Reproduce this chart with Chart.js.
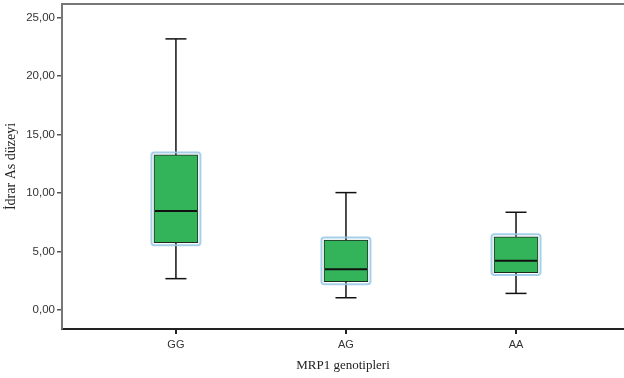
<!DOCTYPE html>
<html><head><meta charset="utf-8">
<script src="https://cdn.jsdelivr.net/npm/chart.js@4"></script>
<style>html,body{margin:0;padding:0;background:#fff}</style>
</head><body>
<canvas id="c" width="624" height="378"></canvas>
<script>
const categories = ['GG', 'AG', 'AA'];
const whiskerMin = [2.68, 1.05, 1.42];
const q1 = [5.75, 2.42, 3.20];
const median = [8.46, 3.48, 4.21];
const q3 = [13.25, 5.98, 6.26];
const whiskerMax = [23.16, 10.03, 8.35];
const yTicks = [0, 5, 10, 15, 20, 25];

const fmt = v => v.toFixed(2).replace('.', ',');

const boxPlugin = {
  id: 'boxplot',
  beforeDatasetsDraw(chart) {
    const { ctx, scales: { x, y } } = chart;
    ctx.save();
    ctx.strokeStyle = '#111';
    ctx.lineWidth = 1.5;
    const line = (x1, y1, x2, y2) => { ctx.beginPath(); ctx.moveTo(x1, y1); ctx.lineTo(x2, y2); ctx.stroke(); };
    categories.forEach((c, i) => {
      const px = x.getPixelForValue(i + 1);
      const yMax = y.getPixelForValue(whiskerMax[i]);
      const yMin = y.getPixelForValue(whiskerMin[i]);
      line(px, yMax, px, y.getPixelForValue(q3[i]));
      line(px, y.getPixelForValue(q1[i]), px, yMin);
      line(px - 10.5, yMax, px + 10.5, yMax);
      line(px - 10.5, yMin, px + 10.5, yMin);
    });
    ctx.restore();
  },
  afterDatasetsDraw(chart) {
    const { ctx, scales: { x, y } } = chart;
    const meta = chart.getDatasetMeta(0);
    ctx.save();
    meta.data.forEach((el, i) => {
      const p = el.getProps(['x', 'y', 'base', 'width'], true);
      const l = p.x - p.width / 2 - 2.5, r = p.x + p.width / 2 + 2.5;
      const t = Math.min(p.y, p.base) - 2.5, b = Math.max(p.y, p.base) + 2.5;
      ctx.strokeStyle = 'rgba(150,200,230,0.85)';
      ctx.lineWidth = 2;
      ctx.beginPath();
      ctx.roundRect(l, t, r - l, b - t, 3);
      ctx.stroke();
      const my = y.getPixelForValue(median[i]);
      ctx.strokeStyle = '#111';
      ctx.lineWidth = 2;
      ctx.beginPath();
      ctx.moveTo(p.x - p.width / 2 + 1, my);
      ctx.lineTo(p.x + p.width / 2 - 1, my);
      ctx.stroke();
    });
    ctx.restore();
  },
  afterDraw(chart) {
    const { ctx, chartArea, scales: { x } } = chart;
    ctx.save();
    ctx.strokeStyle = '#777';
    ctx.lineWidth = 2;
    ctx.beginPath();
    ctx.moveTo(chartArea.left, chartArea.top);
    ctx.lineTo(chartArea.right, chartArea.top);
    ctx.stroke();
    ctx.restore();
    // x-axis tick marks
    ctx.save();
    ctx.fillStyle = '#222';
    categories.forEach((c, i) => {
      const px = Math.round(x.getPixelForValue(i + 1));
      ctx.fillRect(px - 1, chartArea.bottom, 2, 5);
    });
    ctx.restore();
  }
};

new Chart(document.getElementById('c'), {
  type: 'bar',
  data: {
    datasets: [{
      data: categories.map((c, i) => ({ x: i + 1, y: [q1[i], q3[i]] })),
      backgroundColor: '#33b35a',
      borderColor: '#1d2a20',
      borderWidth: 1,
      borderSkipped: false,
      barThickness: 44
    }]
  },
  options: {
    responsive: false,
    animation: false,
    layout: { padding: { top: 4, right: 0, left: 0, bottom: 0 } },
    plugins: { legend: { display: false }, tooltip: { enabled: false } },
    scales: {
      x: {
        type: 'linear',
        offset: false,
        min: 0.33,
        max: 3.635,
        afterBuildTicks: s => { s.ticks = categories.map((c, i) => ({ value: i + 1 })); },
        afterFit: s => { s.height = 49; s.paddingLeft = 0; s.paddingRight = 0; },
        ticks: {
          callback: v => categories[v - 1] || '',
          font: { family: 'Liberation Sans', size: 11 },
          color: '#333',
          padding: 4,
          maxRotation: 0
        },
        grid: { display: false, offset: false, tickLength: 5 },
        border: { display: true, color: '#222', width: 2 },
        title: {
          display: true, text: 'MRP1 genotipleri',
          font: { family: 'Liberation Serif', size: 13 },
          color: '#222',
          padding: { top: 0, bottom: 5 }
        }
      },
      y: {
        min: -1.62,
        max: 26.14,
        afterBuildTicks: s => { s.ticks = yTicks.map(v => ({ value: v })); },
        afterFit: s => { s.width = 62; s.paddingTop = 0; s.paddingBottom = 0; },
        ticks: {
          callback: v => fmt(v),
          font: { family: 'Liberation Sans', size: 11.5 },
          color: '#333',
          padding: 2
        },
        grid: { drawOnChartArea: false, tickLength: 5, color: '#555', lineWidth: 1.5 },
        border: { display: true, color: '#777', width: 2 },
        title: {
          display: true, text: 'İdrar As düzeyi',
          font: { family: 'Liberation Serif', size: 14 },
          color: '#222',
          padding: { top: 3, bottom: 0 }
        }
      }
    }
  },
  plugins: [boxPlugin]
});
</script>
</body></html>
